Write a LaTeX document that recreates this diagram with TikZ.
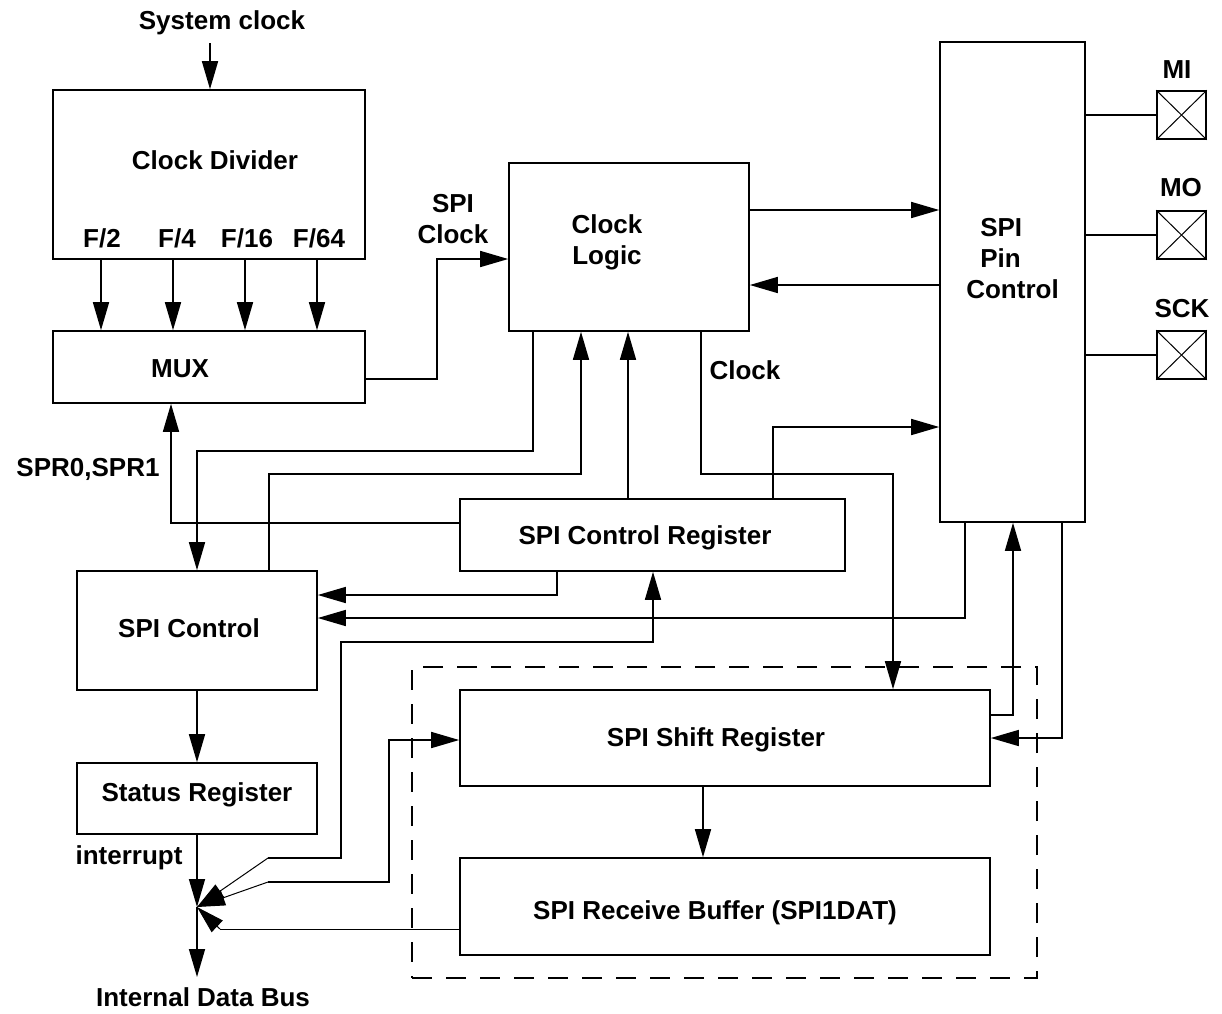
\documentclass[tikz,border=0pt]{standalone}
\usepackage{fontspec}
\setmainfont{Liberation Sans}
\usetikzlibrary{arrows.meta}
\begin{document}
\begin{tikzpicture}[x=1pt,y=-1pt,
  box/.style={draw,line width=1.6pt,inner sep=0pt,rectangle},
  txt/.style={font=\fontsize{26}{31}\selectfont\bfseries,inner sep=0pt,align=center},
  wire/.style={line width=1.6pt},
  arr/.style={wire,-{Triangle[length=28pt,width=16pt]}},
  rarr/.style={wire,{Triangle[length=28pt,width=16pt]}-},
  thinw/.style={line width=1pt},
  tarr/.style={thinw,-{Triangle[length=28pt,width=16pt]}},
]
\useasboundingbox (0,0) rectangle (1222,1013);

% boxes
\node[box,minimum width=312pt,minimum height=169pt] (cd) at (209,174.5) {};
\node[box,minimum width=312pt,minimum height=72pt] (mux) at (209,367) {};
\node[box,minimum width=240pt,minimum height=168pt] (cl) at (629,247) {};
\node[box,minimum width=145pt,minimum height=480pt] (pin) at (1012.5,282) {};
\node[box,minimum width=49pt,minimum height=48pt] (mi) at (1181.5,115) {};
\node[box,minimum width=49pt,minimum height=48pt] (mo) at (1181.5,235) {};
\node[box,minimum width=49pt,minimum height=48pt] (sck) at (1181.5,355) {};
\node[box,minimum width=385pt,minimum height=72pt] (scr) at (652.5,535) {};
\node[box,minimum width=240pt,minimum height=119pt] (sc) at (197,630.5) {};
\node[box,minimum width=240pt,minimum height=71pt] (sr) at (197,798.5) {};
\node[box,minimum width=530pt,minimum height=96pt] (ssr) at (725,738) {};
\node[box,minimum width=530pt,minimum height=97pt] (rb) at (725,906.5) {};
\node[box,dash pattern=on 20pt off 14pt,minimum width=625pt,minimum height=311pt] (dash) at (724.5,822.5) {};

% texts
\node[txt] (tsys) at (222,23) {System clock};
\node[txt] (tcd) at (215,160) {Clock Divider};
\node[txt] (tf2) at (102,238) {F/2};
\node[txt] (tf4) at (177,238) {F/4};
\node[txt] (tf16) at (247,238) {F/16};
\node[txt] (tf64) at (319,238) {F/64};
\node[txt] (tmux) at (180,369) {MUX};
\node[txt] (tspiclk) at (453,219) {SPI\\Clock};
\node[txt] (tcl) at (607,242) {Clock\\Logic};
\node[txt] (tclock) at (745,370) {Clock};
\node[txt,align=left] (tpin) at (1012.5,259) {\hspace*{14pt}SPI\\\hspace*{14pt}Pin\\Control};
\node[txt] (tmi) at (1177,70) {MI};
\node[txt] (tmo) at (1181,188) {MO};
\node[txt] (tsck) at (1182,309) {SCK};
\node[txt] (tspr) at (88,469) {SPR0,SPR1};
\node[txt] (tscr) at (645,538) {SPI Control Register};
\node[txt] (tsc) at (189,628) {SPI Control};
\node[txt] (tsr) at (197,795) {Status Register};
\node[txt] (tint) at (129,858) {interrupt};
\node[txt] (tssr) at (716,740) {SPI Shift Register};
\node[txt] (trb) at (715,913) {SPI Receive Buffer (SPI1DAT)};
\node[txt] (tbus) at (203,997) {Internal Data Bus};

% coordinates
\coordinate (sysin) at (210,43);
\coordinate (conv) at (197,907);
\coordinate (bus) at (197,977);

% system clock
\draw[arr] (sysin) -- (sysin |- cd.north);
% divider outputs
\foreach \xx in {101,173,245,317}
  \draw[arr] (\xx,0 |- cd.south) -- (\xx,0 |- mux.north);
% MUX -> Clock Logic
\draw[arr] (mux.east |- 0,379) -- (437,379) -- (437,259) -- (cl.west |- 0,259);
% Clock Logic <-> Pin Control
\draw[arr] (cl.east |- 0,210) -- (pin.west |- 0,210);
\draw[arr] (pin.west |- 0,285) -- (cl.east |- 0,285);
% pins
\draw[wire] (pin.east |- mi.west) -- (mi.west);
\draw[wire] (pin.east |- mo.west) -- (mo.west);
\draw[wire] (pin.east |- sck.west) -- (sck.west);
\foreach \p in {mi,mo,sck}{
  \draw[thinw] (\p.north west) -- (\p.south east);
  \draw[thinw] (\p.north east) -- (\p.south west);
}
% SPR0,SPR1
\draw[arr] (scr.west |- 0,523) -- (171,523) -- (171,0 |- mux.south);
% Clock Logic -> SPI Control
\draw[arr] (533,0 |- cl.south) -- (533,451) -- (197,451) -- (197,0 |- sc.north);
% SPI Control -> Clock Logic
\draw[arr] (269,0 |- sc.north) -- (269,474) -- (581,474) -- (581,0 |- cl.south);
% SPI Control Register -> Clock Logic
\draw[arr] (628,0 |- scr.north) -- (628,0 |- cl.south);
% Clock -> Shift Register
\draw[arr] (701,0 |- cl.south) -- (701,474) -- (893,474) -- (893,0 |- ssr.north);
% SPI Control Register -> Pin Control
\draw[arr] (773,0 |- scr.north) -- (773,427) -- (pin.west |- 0,427);
% SPI Control Register -> SPI Control
\draw[arr] (557,0 |- scr.south) -- (557,595) -- (sc.east |- 0,595);
% Pin Control -> SPI Control
\draw[arr] (965,0 |- pin.south) -- (965,618) -- (sc.east |- 0,618);
% bus <-> SPI Control Register
\draw[rarr] (653,0 |- scr.south) -- (653,642) -- (341,642) -- (341,858) -- (268,858);
\draw[tarr] (268,858) -- (conv);
% bus <-> Shift Register
\draw[rarr] (ssr.west |- 0,740) -- (389,740) -- (389,882) -- (268,882);
\draw[tarr] (268,882) -- (conv);
% Receive Buffer -> bus
\draw[thinw] (rb.west |- 0,929) -- (220,929);
\draw[tarr] (220,929) -- (conv);
% Status Register -> bus
\draw[arr] (sr.south |- sr.south) -- (conv);
\draw[arr] (conv) -- (bus);
% SPI Control -> Status Register
\draw[arr] (sc.south) -- (sr.north);
% Shift Register -> Receive Buffer
\draw[arr] (703,0 |- ssr.south) -- (703,0 |- rb.north);
% Shift Register <-> Pin Control
\draw[arr] (ssr.east |- 0,715) -- (1013,715) -- (1013,0 |- pin.south);
\draw[arr] (1062,0 |- pin.south) -- (1062,738) -- (ssr.east |- 0,738);
\end{tikzpicture}
\end{document}
